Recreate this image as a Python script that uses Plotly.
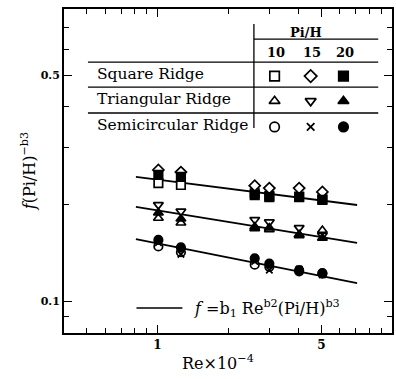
import plotly.graph_objects as go
import math

# ---------------- data ----------------
re_vals = [1.01, 1.26, 2.60, 3.00, 4.02, 5.05]

square_10 = [0.232, 0.229, 0.216, 0.212, 0.211, 0.207]
square_15 = [0.255, 0.251, 0.228, 0.224, 0.224, 0.218]
square_20 = [0.246, 0.2425, 0.213, 0.210, 0.210, 0.206]

tri_10 = [0.181, 0.175, 0.168, 0.167, 0.160, 0.166]
tri_15 = [0.199, 0.190, 0.179, 0.176, 0.169, 0.160]
tri_20 = [0.188, 0.180, 0.170, 0.169, 0.161, 0.157]

semi_10 = [0.148, 0.142, 0.130, 0.128, 0.124, 0.122]
semi_15 = [0.152, 0.140, 0.133, 0.125, 0.126, 0.121]
semi_20 = [0.155, 0.147, 0.136, 0.131, 0.125, 0.1225]

fit_x = [0.81, 7.1]
fit_square = [0.2425, 0.1987]
fit_tri = [0.196, 0.1517]
fit_semi = [0.156, 0.114]

x_major = [1, 5]
x_minor = [0.4, 0.5, 0.6, 0.7, 0.8, 0.9, 2, 3, 4, 6, 7, 8, 9]
y_major = [0.1, 0.5]
y_minor = [0.08, 0.09, 0.2, 0.3, 0.4, 0.6, 0.7]

pih_labels = ["10", "15", "20"]
row_labels = ["Square Ridge", "Triangular Ridge", "Semicircular Ridge"]
row_symbols = [["square", "diamond", "square"],
               ["triangle-up", "triangle-down", "triangle-up"],
               ["circle", "x-thin", "circle"]]
row_filled = [[False, False, True], [False, False, True], [False, None, True]]

FONT = "DejaVu Serif"
fig = go.Figure()

series = [
    (square_10, "square", False), (square_15, "diamond", False), (square_20, "square", True),
    (tri_10, "triangle-up", False), (tri_15, "triangle-down", False), (tri_20, "triangle-up", True),
    (semi_10, "circle", False), (semi_15, "x-thin", None), (semi_20, "circle", True),
]

for fy in [fit_square, fit_tri, fit_semi]:
    fig.add_trace(go.Scatter(x=fit_x, y=fy, mode="lines",
                             line=dict(color="black", width=1.8), showlegend=False))


def marker_for(sym, filled, size=8.5):
    if filled is None:
        return dict(symbol=sym, size=size - 2, color="black",
                    line=dict(color="black", width=1.8))
    return dict(symbol=sym, size=size, color="black" if filled else "white",
                line=dict(color="black", width=1.7))


for vals, sym, filled in series:
    fig.add_trace(go.Scatter(x=re_vals, y=vals, mode="markers",
                             marker=marker_for(sym, filled), showlegend=False))

# ---- table (legend) on an overlay axis 0..1 ----
col_x = [0.642, 0.752, 0.852]
row_y = [0.793, 0.716, 0.636]
label_y = [0.799, 0.722, 0.642]
for r in range(3):
    for c in range(3):
        fig.add_trace(go.Scatter(x=[col_x[c]], y=[row_y[r]], mode="markers",
                                 xaxis="x2", yaxis="y2",
                                 marker=marker_for(row_symbols[r][c], row_filled[r][c], 9.5),
                                 showlegend=False))

line_style = dict(color="black", width=1.3)
shapes = [
    dict(type="line", xref="paper", yref="paper", x0=0.579, x1=0.579, y0=0.954, y1=0.633, line=line_style),
    dict(type="line", xref="paper", yref="paper", x0=0.579, x1=0.958, y0=0.907, y1=0.907, line=line_style),
    dict(type="line", xref="paper", yref="paper", x0=0.073, x1=0.958, y0=0.836, y1=0.836, line=line_style),
    dict(type="line", xref="paper", yref="paper", x0=0.073, x1=0.958, y0=0.759, y1=0.759, line=line_style),
    dict(type="line", xref="paper", yref="paper", x0=0.073, x1=0.958, y0=0.679, y1=0.679, line=line_style),
    dict(type="line", xref="paper", yref="paper", x0=0.221, x1=0.361, y0=0.077, y1=0.077,
         line=dict(color="black", width=1.5)),
]

ann = []
tf = dict(family=FONT, size=15.5, color="black")
ann.append(dict(x=0.739, y=0.926, xref="paper", yref="paper", text="<b>Pi/H</b>", showarrow=False,
                xanchor="center", yanchor="middle",
                font=dict(family=FONT, size=13, color="black")))
for c, lab in enumerate(pih_labels):
    ann.append(dict(x=col_x[c] + 0.004, y=0.867, xref="paper", yref="paper", text="<b>" + lab + "</b>",
                    xanchor="center", yanchor="middle",
                    showarrow=False, font=dict(family=FONT, size=13, color="black")))
for r, lab in enumerate(row_labels):
    ann.append(dict(x=0.094, y=label_y[r], xref="paper", yref="paper", text=lab,
                    xanchor="left", yanchor="middle", showarrow=False, font=tf))
ann.append(dict(x=0.39, y=0.077, xref="paper", yref="paper", xanchor="left", yanchor="middle",
                text="<i>f</i> =b<sub>1</sub> Re<sup>b2</sup>(Pi/H)<sup>b3</sup>",
                showarrow=False, font=dict(family=FONT, size=16, color="black")))
ann.append(dict(x=-0.109, y=0.5, xref="paper", yref="paper", textangle=-90,
                xanchor="center", yanchor="middle",
                text="<i>f</i>(Pi/H)<sup>\u2212b3</sup>", showarrow=False,
                font=dict(family=FONT, size=16, color="black")))
ann.append(dict(x=0.47, y=-0.09, xref="paper", yref="paper", xanchor="center", yanchor="middle",
                text="Re\u00d710<sup>\u22124</sup>", showarrow=False,
                font=dict(family=FONT, size=16, color="black")))

axis_common = dict(showgrid=False, zeroline=False, showline=True, linecolor="black",
                   linewidth=2, mirror="allticks", ticks="inside", ticklen=8,
                   tickwidth=1.3, tickcolor="black")

fig.update_layout(
    width=396, height=379,
    margin=dict(l=64, r=2, t=9, b=46),
    paper_bgcolor="white", plot_bgcolor="white",
    shapes=shapes, annotations=ann,
    xaxis=dict(type="log", range=[math.log10(0.4), 1.0], tickvals=x_major,
               ticktext=["<b>1</b>", "<b>5</b>"], tickfont=dict(family=FONT, size=12, color="black"),
               minor=dict(tickvals=x_minor, ticks="inside", ticklen=5, tickwidth=1.3,
                          tickcolor="black", showgrid=False),
               **axis_common),
    yaxis=dict(type="log", range=[math.log10(0.08), math.log10(0.8)], tickvals=y_major,
               ticktext=["<b>0.1</b>", "<b>0.5</b>"], tickfont=dict(family=FONT, size=11, color="black"),
               minor=dict(tickvals=y_minor, ticks="inside", ticklen=5, tickwidth=1.3,
                          tickcolor="black", showgrid=False),
               **axis_common),
    xaxis2=dict(overlaying="x", range=[0, 1], visible=False, fixedrange=True),
    yaxis2=dict(overlaying="y", range=[0, 1], visible=False, fixedrange=True),
    showlegend=False,
)

fig.write_html("out.html")
